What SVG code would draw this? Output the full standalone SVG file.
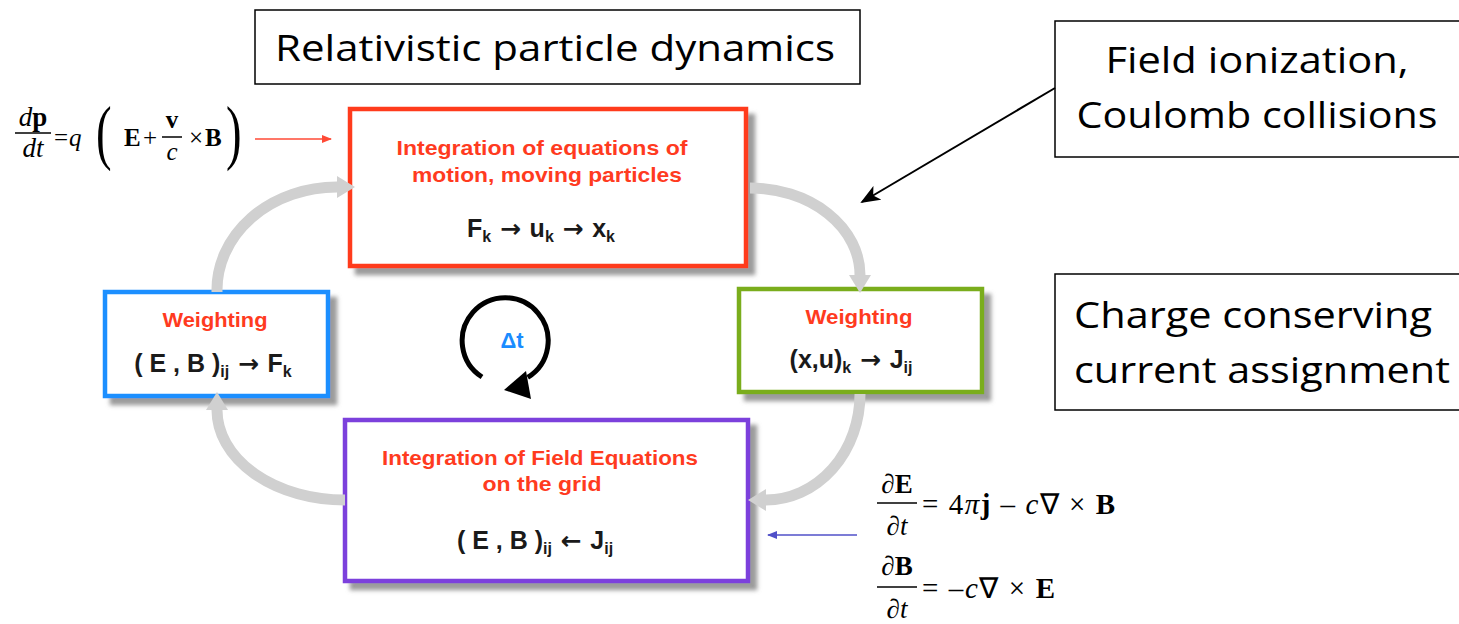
<svg xmlns="http://www.w3.org/2000/svg" width="1459" height="624" viewBox="0 0 1459 624">
<defs>
<style>
.lbl{font-family:"Open Sans","Liberation Sans",Arial,sans-serif;fill:#000}
.red{font-family:"Liberation Sans",Arial,sans-serif;font-weight:bold;fill:#ff3b1f;font-size:21px;text-anchor:middle}
.frm{font-family:"Liberation Sans",Arial,sans-serif;font-weight:bold;fill:#1a1a1a;font-size:25px;text-anchor:middle}
.ar{font-family:"DejaVu Sans",sans-serif;font-weight:bold}
.math{font-family:"Liberation Serif","Times New Roman",serif;fill:#000}
.b{font-weight:bold}
.i{font-style:italic}
.box{fill:#fff;stroke-width:4.5}
.tbox{fill:#fff;stroke:#000;stroke-width:1.5}
.arc{fill:none;stroke:#d0d0d0;stroke-width:11}
</style>
<filter id="sh" x="-10%" y="-10%" width="130%" height="130%">
<feDropShadow dx="7" dy="7" stdDeviation="2" flood-color="#8a8a8a" flood-opacity="0.85"/>
</filter>
<marker id="ga" viewBox="0 0 18 22" refX="0" refY="11" markerWidth="18" markerHeight="22" markerUnits="userSpaceOnUse" orient="auto">
<path d="M0,0 L18,11 L0,22 z" fill="#d0d0d0"/>
</marker>
<marker id="ka" viewBox="0 0 20 16" refX="18" refY="8" markerWidth="20" markerHeight="16" markerUnits="userSpaceOnUse" orient="auto">
<path d="M0,0 L20,8 L0,16 L5,8 z" fill="#000"/>
</marker>
<marker id="ra" viewBox="0 0 10 8" refX="9" refY="4" markerWidth="10" markerHeight="8" markerUnits="userSpaceOnUse" orient="auto">
<path d="M0,0 L10,4 L0,8 z" fill="#ff4a36"/>
</marker>
<marker id="ba" viewBox="0 0 10 8" refX="9" refY="4" markerWidth="10" markerHeight="8" markerUnits="userSpaceOnUse" orient="auto">
<path d="M0,0 L10,4 L0,8 z" fill="#5050c8"/>
</marker>
</defs>
<rect width="1459" height="624" fill="#fff"/>

<g id="title">
<rect class="tbox" x="255" y="10" width="605" height="74"/>
<text class="lbl" x="555" y="61" font-size="36" text-anchor="middle" textLength="560" lengthAdjust="spacingAndGlyphs">Relativistic particle dynamics</text>
</g>

<g id="field-ionization">
<rect class="tbox" x="1055" y="21" width="420" height="136"/>
<text class="lbl" x="1257" y="73" font-size="36" text-anchor="middle" textLength="303" lengthAdjust="spacingAndGlyphs">Field ionization,</text>
<text class="lbl" x="1257" y="128" font-size="36" text-anchor="middle" textLength="361" lengthAdjust="spacingAndGlyphs">Coulomb collisions</text>
</g>

<g id="charge-conserving">
<rect class="tbox" x="1055" y="274" width="420" height="136"/>
<text class="lbl" x="1074" y="328" font-size="36" textLength="358" lengthAdjust="spacingAndGlyphs">Charge conserving</text>
<text class="lbl" x="1074" y="383" font-size="36" textLength="376" lengthAdjust="spacingAndGlyphs">current assignment</text>
</g>

<g id="particle-push">
<rect class="box" x="350" y="109" width="396" height="157" stroke="#ff3a1a" filter="url(#sh)"/>
<text class="red" x="542" y="155" textLength="291" lengthAdjust="spacingAndGlyphs">Integration of equations of</text>
<text class="red" x="547" y="182" textLength="270" lengthAdjust="spacingAndGlyphs">motion, moving particles</text>
<text class="frm" x="541" y="237">F<tspan font-size="16" dy="5">k</tspan><tspan dy="-5" class="ar"> → </tspan>u<tspan font-size="16" dy="5">k</tspan><tspan dy="-5" class="ar"> → </tspan>x<tspan font-size="16" dy="5">k</tspan></text>
</g>

<g id="weighting-left">
<rect class="box" x="105" y="292" width="223" height="104" stroke="#1e8fff" filter="url(#sh)"/>
<text class="red" x="215" y="327" textLength="105" lengthAdjust="spacingAndGlyphs">Weighting</text>
<text class="frm" x="213" y="372">( E , B )<tspan font-size="16" dy="5">ij</tspan><tspan dy="-5" class="ar"> → </tspan>F<tspan font-size="16" dy="5">k</tspan></text>
</g>

<g id="weighting-right">
<rect class="box" x="739" y="289" width="243" height="103" stroke="#7aad1f" filter="url(#sh)"/>
<text class="red" x="859" y="324" textLength="107" lengthAdjust="spacingAndGlyphs">Weighting</text>
<text class="frm" x="851" y="368">(x,u)<tspan font-size="16" dy="5">k</tspan><tspan dy="-5" class="ar"> → </tspan>J<tspan font-size="16" dy="5">ij</tspan></text>
</g>

<g id="field-solve">
<rect class="box" x="345" y="420" width="403" height="161" stroke="#7b3fdc" filter="url(#sh)"/>
<text class="red" x="540" y="465" textLength="316" lengthAdjust="spacingAndGlyphs">Integration of Field Equations</text>
<text class="red" x="542" y="491" textLength="119" lengthAdjust="spacingAndGlyphs">on the grid</text>
<text class="frm" x="535" y="549">( E , B )<tspan font-size="16" dy="5">ij</tspan><tspan dy="-5" class="ar"> ← </tspan>J<tspan font-size="16" dy="5">ij</tspan></text>
</g>

<g id="timestep">
<path d="M482,377 A43,43 0 1 1 527.7,377.4" fill="none" stroke="#000" stroke-width="5"/>
<path d="M504,390 L526,371 L531,399 z" fill="#000"/>
<text x="512" y="348" font-family="'Liberation Sans',Arial,sans-serif" font-weight="bold" font-size="22" fill="#1a8cff" text-anchor="middle">Δt</text>
</g>

<g id="lorentz-eq" class="math" font-size="25">
<text x="33" y="126" text-anchor="middle" font-size="27"><tspan class="i">d</tspan><tspan class="b">p</tspan></text>
<line x1="15" y1="133" x2="51" y2="133" stroke="#000" stroke-width="1.5"/>
<text x="33" y="157" text-anchor="middle" class="i" font-size="27">dt</text>
<text x="54" y="146">=</text>
<text x="69" y="146" class="i">q</text>
<text transform="translate(96,156) scale(0.65,1)" font-size="72">(</text>
<text x="124" y="146" class="b">E</text>
<text x="143" y="146">+</text>
<text x="172" y="128" text-anchor="middle" class="b">v</text>
<line x1="162" y1="137" x2="182" y2="137" stroke="#000" stroke-width="1.5"/>
<text x="172" y="160" text-anchor="middle" class="i">c</text>
<text x="189" y="146">×</text>
<text x="205" y="146" class="b">B</text>
<text transform="translate(226,156) scale(0.65,1)" font-size="72">)</text>
</g>

<g id="maxwell-eq" class="math" font-size="27">
<text x="897" y="493" text-anchor="middle">∂<tspan class="b">E</tspan></text>
<line x1="877" y1="503" x2="917" y2="503" stroke="#000" stroke-width="1.5"/>
<text x="897" y="535" text-anchor="middle">∂<tspan class="i">t</tspan></text>
<text x="922" y="514" font-size="29" textLength="193" lengthAdjust="spacing">= 4<tspan class="i">π</tspan><tspan class="b">j</tspan> – <tspan class="i">c</tspan>∇ × <tspan class="b">B</tspan></text>
<text x="897" y="575" text-anchor="middle">∂<tspan class="b">B</tspan></text>
<line x1="877" y1="587" x2="917" y2="587" stroke="#000" stroke-width="1.5"/>
<text x="897" y="618" text-anchor="middle">∂<tspan class="i">t</tspan></text>
<text x="922" y="598" font-size="29" textLength="133" lengthAdjust="spacing">= –<tspan class="i">c</tspan>∇ × <tspan class="b">E</tspan></text>
</g>

<g id="connectors">
<path class="arc" d="M217,292 A120,103 0 0 1 337,187" marker-end="url(#ga)"/>
<path class="arc" d="M750,188 A110,87 0 0 1 860,275" marker-end="url(#ga)"/>
<path class="arc" d="M860,394 A94,106 0 0 1 766,500" marker-end="url(#ga)"/>
<path class="arc" d="M345,500 A128,90 0 0 1 217,410" marker-end="url(#ga)"/>
<line x1="1055" y1="88" x2="862" y2="202" stroke="#000" stroke-width="2" marker-end="url(#ka)"/>
<line x1="255" y1="139" x2="331" y2="139" stroke="#ff4a36" stroke-width="1.5" marker-end="url(#ra)"/>
<line x1="857" y1="535" x2="768" y2="535" stroke="#5050c8" stroke-width="1.5" marker-end="url(#ba)"/>
</g>
</svg>
